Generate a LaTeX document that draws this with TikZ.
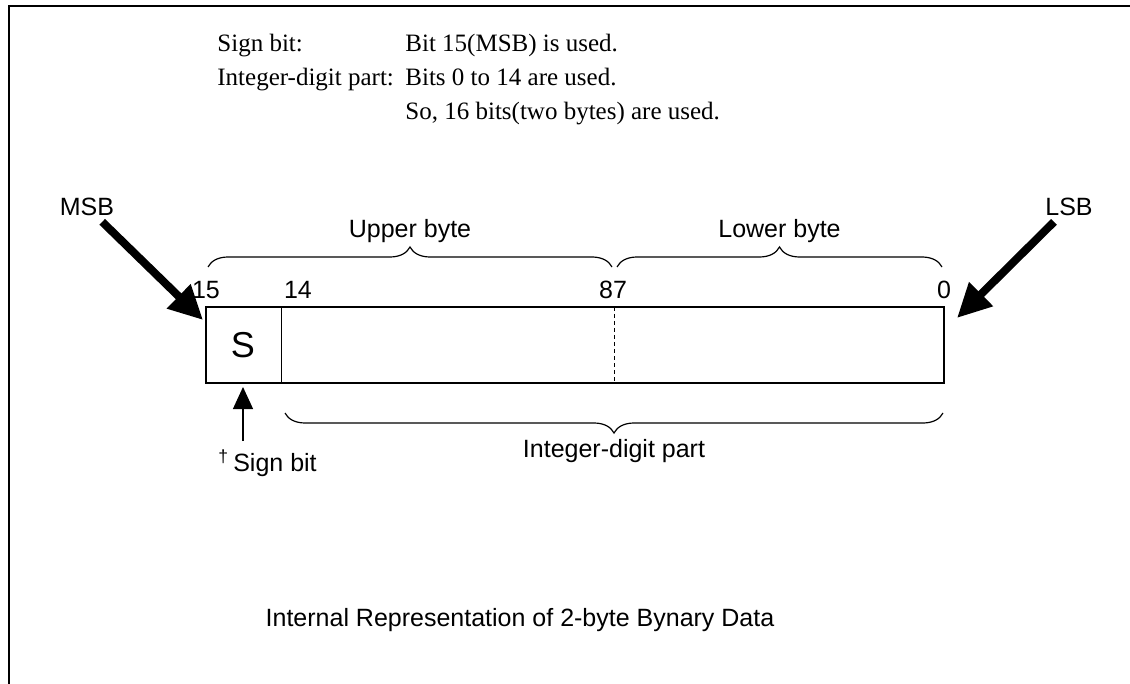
\documentclass[tikz,border=0pt]{standalone}
\usepackage{fontspec}
\setmainfont{Liberation Serif}
\setsansfont{Liberation Sans}
\usetikzlibrary{decorations.pathreplacing,arrows.meta}

\begin{document}
\begin{tikzpicture}[x=0.5pt,y=-0.5pt]
\tikzstyle{brace} = [decorate, decoration={brace, amplitude=10pt}, line width=0.6pt]
\tikzstyle{lbl} = [font=\sffamily\fontsize{12.5}{15}\selectfont, inner sep=0]
\tikzstyle{note} = [font=\fontsize{12.5}{15}\selectfont, inner sep=0, anchor=base west]
\tikzstyle{bigarrow} = [line width=4pt, -{Triangle[length=17pt,width=16pt]}]
\useasboundingbox (0,0) rectangle (1130,684);

% frame
\draw[line width=0.8pt] (1130,6) -- (9,6) -- (9,684);

% notes on top
\node[note] (t1) at (217,52) {Sign bit:};
\node[note] (t2) at (217,86) {Integer-digit part:};
\node[note] (t3) at (405,52) {Bit 15(MSB) is used.};
\node[note] (t4) at (405,86) {Bits 0 to 14 are used.};
\node[note] (t5) at (405,120) {So, 16 bits(two bytes) are used.};

% the word
\coordinate (b0) at (206,307);
\coordinate (b1) at (944,383);
\draw[line width=0.7pt] (b0) rectangle (b1);
\draw[line width=0.5pt] (281,307) -- (281,383);
\draw[dashed, line width=0.4pt, dash pattern=on 2pt off 1.5pt] (614,307) -- (614,383);
\node[font=\sffamily\fontsize{18}{20}\selectfont] (s) at (243,345) {S};

% bit numbers
\node[lbl] (n15) at (206,290) {15};
\node[lbl] (n14) at (298,290) {14};
\node[lbl] (n87) at (613,290) {87};
\node[lbl] (n0) at (944,290) {0};

% bytes
\draw[brace] (208,267) -- (612,267) node[pos=0.5, lbl, above, yshift=12pt] (ub) {Upper byte};
\draw[brace] (617,267) -- (942,267) node[pos=0.5, lbl, above, yshift=12pt] (lb) {Lower byte};
\draw[brace] (943,413) -- (285,413) node[pos=0.5, lbl, below, yshift=-13pt] (ip) {Integer-digit part};

% MSB / LSB
\node[lbl] (msb) at (87,207) {MSB};
\node[lbl] (lsb) at (1069,207) {LSB};
\coordinate (msbtip) at (203,320);
\coordinate (lsbtip) at (957,318);
\draw[bigarrow, shorten <=4pt] (msb) -- (msbtip);
\draw[bigarrow, shorten <=4pt] (lsb) -- (lsbtip);

% sign bit
\node[lbl, anchor=west] (sb) at (218,463) {\textsuperscript{\dag}\,Sign bit};
\coordinate (sbtip) at (243,387);
\coordinate (sbtail) at (243,441);
\draw[line width=0.6pt, -{Triangle[length=11pt,width=10pt]}] (sbtail) -- (sbtip);

\node[font=\sffamily\fontsize{12.5}{15}\selectfont] (cap) at (520,620) {Internal Representation of 2-byte Bynary Data};

\end{tikzpicture}
\end{document}
